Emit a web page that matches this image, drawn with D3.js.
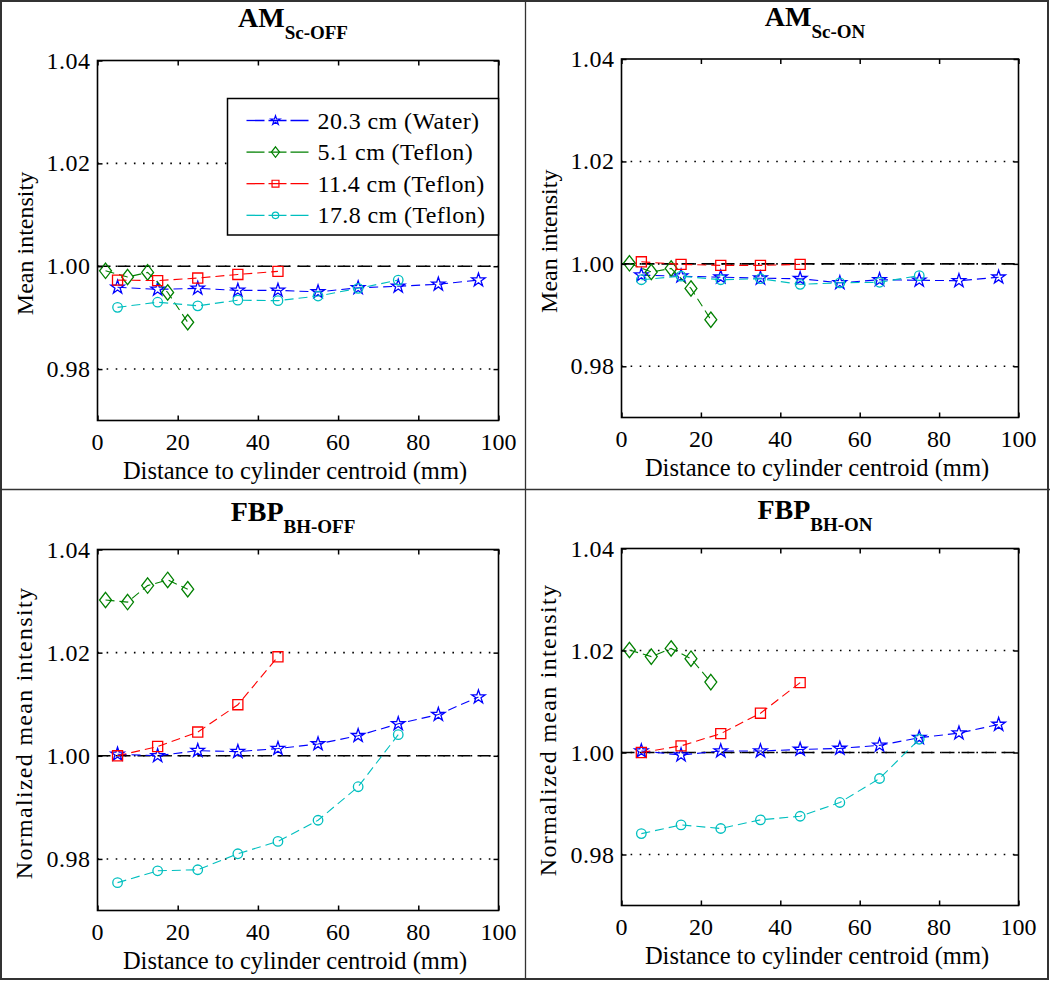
<!DOCTYPE html>
<html><head><meta charset="utf-8">
<script src="https://cdn.jsdelivr.net/npm/d3@7/dist/d3.min.js"></script>
<style>
html,body{margin:0;padding:0;background:#fff;}
svg{display:block;}
text{font-family:"Liberation Serif","Times New Roman",Times,serif;fill:#000;}
</style></head>
<body>
<svg id="chart" width="1050" height="981"></svg>
<script>
// ---------- data ----------
const xTickValues = [0, 20, 40, 60, 80, 100];
const yTickValues = [0.98, 1.00, 1.02, 1.04];
const yTickLabels = ["0.98", "1.00", "1.02", "1.04"];
const xDomain = [0, 100];
const yDomain = [0.97, 1.04];
const referenceLevel = 1.00;

const seriesNames = ["20.3 cm (Water)", "5.1 cm (Teflon)", "11.4 cm (Teflon)", "17.8 cm (Teflon)"];
const seriesColors = ["#0000ff", "#008000", "#ff0000", "#00bfbf"];
const seriesMarkers = ["star", "diamond", "square", "circle"];

const xWater   = [5, 15, 25, 35, 45, 55, 65, 75, 85, 95];
const xTef51   = [2, 7.5, 12.5, 17.5, 22.5];
const xTef114  = [5, 15, 25, 35, 45];
const xTef178  = [5, 15, 25, 35, 45, 55, 65, 75];

const amScOffWater  = [0.9959, 0.9955, 0.9957, 0.9953, 0.9953, 0.9950, 0.9958, 0.9961, 0.9965, 0.9973];
const amScOffTef51  = [0.9991, 0.9979, 0.9988, 0.9949, 0.9891];
const amScOffTef114 = [0.9973, 0.9972, 0.9977, 0.9984, 0.9990];
const amScOffTef178 = [0.9920, 0.9930, 0.9923, 0.9934, 0.9933, 0.9942, 0.9957, 0.9973];

const amScOnWater  = [0.9978, 0.9976, 0.9974, 0.9972, 0.9971, 0.9963, 0.9969, 0.9968, 0.9967, 0.9974];
const amScOnTef51  = [1.0001, 0.9984, 0.9991, 0.9952, 0.9891];
const amScOnTef114 = [1.0004, 0.9999, 0.9997, 0.9997, 0.9999];
const amScOnTef178 = [0.9969, 0.9976, 0.9969, 0.9971, 0.9960, 0.9963, 0.9964, 0.9977];

const fbpOffWater  = [1.0003, 1.0000, 1.0010, 1.0008, 1.0014, 1.0023, 1.0039, 1.0062, 1.0080, 1.0114];
const fbpOffTef51  = [1.0302, 1.0298, 1.0330, 1.0341, 1.0323];
const fbpOffTef114 = [1.0000, 1.0018, 1.0046, 1.0099, 1.0192];
const fbpOffTef178 = [0.9754, 0.9777, 0.9779, 0.9810, 0.9834, 0.9875, 0.9940, 1.0041];

const fbpOnWater  = [1.0003, 0.9995, 1.0003, 1.0003, 1.0006, 1.0008, 1.0014, 1.0029, 1.0038, 1.0055];
const fbpOnTef51  = [1.0201, 1.0188, 1.0204, 1.0184, 1.0138];
const fbpOnTef114 = [1.0000, 1.0013, 1.0037, 1.0077, 1.0137];
const fbpOnTef178 = [0.9841, 0.9858, 0.9851, 0.9868, 0.9875, 0.9902, 0.9949, 1.0026];

const panelTitles = [["AM", "Sc-OFF"], ["AM", "Sc-ON"], ["FBP", "BH-OFF"], ["FBP", "BH-ON"]];
const panelYLabels = ["Mean intensity", "Mean intensity", "Normalized mean intensity", "Normalized mean intensity"];
const xLabel = "Distance to cylinder centroid (mm)";
const legendPanel = 0;

// ---------- layout ----------
const panels = [
  {x0: 97.5, x1: 498.5, y0: 60.5, y1: 420.5, series: [[xWater, amScOffWater], [xTef51, amScOffTef51], [xTef114, amScOffTef114], [xTef178, amScOffTef178]], ylx: 33, titleY: 27},
  {x0: 621.5, x1: 1018.5, y0: 59, y1: 417.5, series: [[xWater, amScOnWater], [xTef51, amScOnTef51], [xTef114, amScOnTef114], [xTef178, amScOnTef178]], ylx: 557, titleY: 26},
  {x0: 97.5, x1: 498.5, y0: 549.5, y1: 910.5, series: [[xWater, fbpOffWater], [xTef51, fbpOffTef51], [xTef114, fbpOffTef114], [xTef178, fbpOffTef178]], ylx: 32, titleY: 521},
  {x0: 621.5, x1: 1018.5, y0: 548.5, y1: 905.5, series: [[xWater, fbpOnWater], [xTef51, fbpOnTef51], [xTef114, fbpOnTef114], [xTef178, fbpOnTef178]], ylx: 556, titleY: 519}
];

const svg = d3.select("#chart");
svg.append("rect").attr("x", 0).attr("y", 0).attr("width", 1050).attr("height", 981).attr("fill", "#fff");

function markerPath(type, s) {
  if (type === "star") return d3.symbol(d3.symbolStar, s * s * 1.15)();
  if (type === "diamond") { const w = s * 0.85, h = s * 1.1; return `M0,${-h}L${w},0L0,${h}L${-w},0Z`; }
  if (type === "square") return `M${-s*0.72},${-s*0.72}H${s*0.72}V${s*0.72}H${-s*0.72}Z`;
  return d3.symbol(d3.symbolCircle, Math.PI * (s*0.68) * (s*0.68))();
}

panels.forEach((p, i) => {
  const g = svg.append("g");
  const x = d3.scaleLinear().domain(xDomain).range([p.x0, p.x1]);
  const y = d3.scaleLinear().domain(yDomain).range([p.y1, p.y0]);

  // grid (dotted) at y ticks
  g.selectAll(".grid").data(yTickValues.filter(v => v < yDomain[1])).enter().append("line")
    .attr("x1", p.x0).attr("x2", p.x1).attr("y1", d => y(d)).attr("y2", d => y(d))
    .attr("stroke", "#000").attr("stroke-width", 1.6).attr("stroke-dasharray", "1.6,7.5");

  // reference line at 1.00
  g.append("line").attr("x1", p.x0).attr("x2", p.x1)
    .attr("y1", y(referenceLevel)).attr("y2", y(referenceLevel))
    .attr("stroke", "#000").attr("stroke-width", 1.6).attr("stroke-dasharray", "13,7");

  // series
  p.series.forEach((s, k) => {
    const pts = s[0].map((xv, j) => [xv, s[1][j]]);
    const line = d3.line().x(d => x(d[0])).y(d => y(d[1]));
    g.append("path").attr("d", line(pts)).attr("fill", "none")
      .attr("stroke", seriesColors[k]).attr("stroke-width", 1.1).attr("stroke-dasharray", "9,5");
    g.selectAll(".m" + k).data(pts).enter().append("path")
      .attr("d", markerPath(seriesMarkers[k], 7))
      .attr("transform", d => `translate(${x(d[0])},${y(d[1])})`)
      .attr("fill", "none").attr("stroke", seriesColors[k]).attr("stroke-width", 1.3);
  });

  // axes box
  g.append("rect").attr("x", p.x0).attr("y", p.y0).attr("width", p.x1 - p.x0).attr("height", p.y1 - p.y0)
    .attr("fill", "none").attr("stroke", "#000").attr("stroke-width", 1.6);

  // ticks (inward, all four sides)
  const xb = d3.axisBottom(x).tickValues(xTickValues).tickSize(-5).tickFormat("");
  const xt = d3.axisTop(x).tickValues(xTickValues).tickSize(-5).tickFormat("");
  const yl = d3.axisLeft(y).tickValues(yTickValues).tickSize(-5).tickFormat("");
  const yr = d3.axisRight(y).tickValues(yTickValues).tickSize(-5).tickFormat("");
  [[xb, `translate(0,${p.y1})`], [xt, `translate(0,${p.y0})`], [yl, `translate(${p.x0},0)`], [yr, `translate(${p.x1},0)`]].forEach(([ax, tr]) => {
    const a = g.append("g").attr("transform", tr).call(ax);
    a.select(".domain").remove();
    a.selectAll("line").attr("stroke", "#000").attr("stroke-width", 1.5);
  });

  // tick labels
  g.selectAll(".xtl").data(xTickValues).enter().append("text")
    .attr("x", d => x(d)).attr("y", p.y1 + 29).attr("text-anchor", "middle")
    .attr("font-size", 24).text(d => d);
  g.selectAll(".ytl").data(yTickValues).enter().append("text")
    .attr("x", p.x0 - 7).attr("y", d => y(d) + 8).attr("text-anchor", "end")
    .attr("font-size", 24).attr("letter-spacing", 0.5).text((d, j) => yTickLabels[j]);

  // axis labels
  g.append("text").attr("x", (p.x0 + p.x1) / 2 - 3).attr("y", p.y1 + 58).attr("text-anchor", "middle")
    .attr("font-size", 24.5).text(xLabel);
  g.append("text").attr("transform", `translate(${p.ylx},${(p.y0 + p.y1) / 2 + 3}) rotate(-90)`)
    .attr("text-anchor", "middle").attr("font-size", 24)
    .attr("letter-spacing", i >= 2 ? 1.3 : 0).text(panelYLabels[i]);

  // title with subscript
  const t = g.append("text").attr("x", (p.x0 + p.x1) / 2 - 5).attr("y", p.titleY)
    .attr("text-anchor", "middle").attr("font-weight", "bold");
  t.append("tspan").attr("font-size", 28).text(panelTitles[i][0]);
  t.append("tspan").attr("font-size", 19).attr("dy", 12).text(panelTitles[i][1]);

  // legend
  if (i === legendPanel) {
    const lg = svg.append("g");
    const lx0 = 227.5, ly0 = 98.5, lw = 271, lh = 136.5;
    lg.append("rect").attr("x", lx0).attr("y", ly0).attr("width", lw).attr("height", lh)
      .attr("fill", "#fff").attr("stroke", "#000").attr("stroke-width", 1.5);
    seriesNames.forEach((nm, k) => {
      const cy = ly0 + 22 + k * 31.6;
      lg.append("line").attr("x1", lx0 + 19).attr("x2", lx0 + 83).attr("y1", cy).attr("y2", cy)
        .attr("stroke", seriesColors[k]).attr("stroke-width", 1.3).attr("stroke-dasharray", "18,4");
      lg.append("path").attr("d", markerPath(seriesMarkers[k], 4.8))
        .attr("transform", `translate(${lx0 + 48},${cy})`)
        .attr("fill", "none").attr("stroke", seriesColors[k]).attr("stroke-width", 1.2);
      lg.append("text").attr("x", lx0 + 90).attr("y", cy + 8).attr("font-size", 24)
        .attr("letter-spacing", 0.4).text(nm);
    });
  }
});

// frame lines
const frame = svg.append("g").attr("stroke", "#333").attr("fill", "none");
frame.append("rect").attr("x", 1).attr("y", 1).attr("width", 1047).attr("height", 978).attr("stroke-width", 2);
frame.append("line").attr("x1", 525.5).attr("x2", 525.5).attr("y1", 0).attr("y2", 980).attr("stroke-width", 1.3);
frame.append("line").attr("x1", 0).attr("x2", 1050).attr("y1", 489.5).attr("y2", 489.5).attr("stroke-width", 1.3);
</script>
</body></html>
